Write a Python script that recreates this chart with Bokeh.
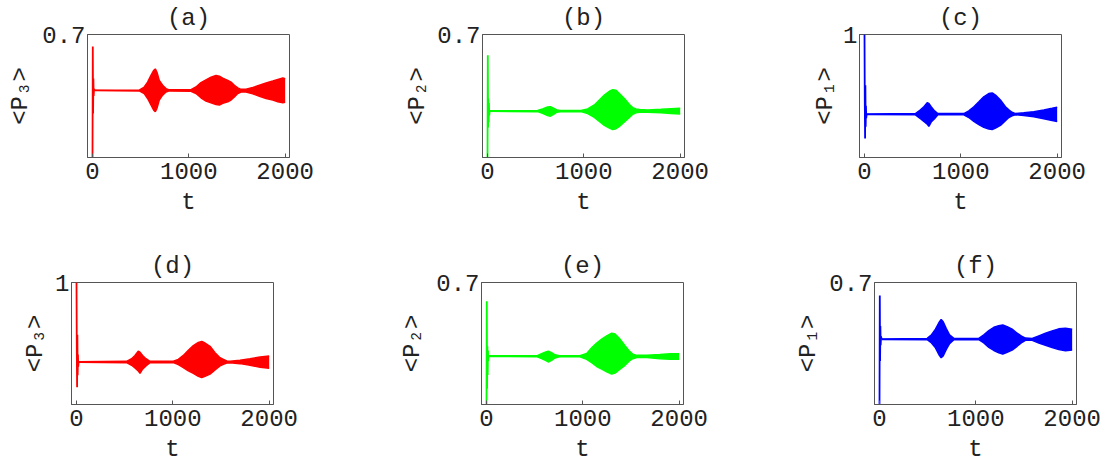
from bokeh.plotting import figure
from bokeh.layouts import column, row
from bokeh.models import FixedTicker, Range1d
from bokeh.embed import file_html
from bokeh.resources import INLINE

FONT = "Liberation Mono"
FS = "24px"

# ---------------- data ----------------
x_ticks = [0, 1000, 2000]

# (a) <P3>, red
a_t  = [20, 485, 537, 572, 607, 634, 652, 669, 693, 728, 763, 797, 1022, 1074, 1126, 1178, 1230, 1282, 1317, 1352, 1404, 1438, 1473, 1508, 1542, 1594, 1664, 1733, 1802, 1872, 1924, 1976, 2000]
a_up = [0.383, 0.383, 0.401, 0.429, 0.467, 0.495, 0.504, 0.485, 0.439, 0.411, 0.392, 0.385, 0.386, 0.401, 0.426, 0.442, 0.457, 0.467, 0.463, 0.452, 0.439, 0.429, 0.411, 0.396, 0.388, 0.388, 0.398, 0.411, 0.424, 0.435, 0.444, 0.452, 0.448]
a_lo = [0.381, 0.379, 0.364, 0.336, 0.299, 0.271, 0.261, 0.280, 0.327, 0.355, 0.373, 0.379, 0.377, 0.364, 0.340, 0.321, 0.312, 0.302, 0.299, 0.308, 0.317, 0.327, 0.345, 0.364, 0.373, 0.373, 0.362, 0.349, 0.336, 0.327, 0.317, 0.312, 0.314]
a_tr_t = [0, 3, 6, 9, 12, 16, 20]
a_tr_y = [0.0, 0.631, 0.25, 0.45, 0.35, 0.39, 0.383]

# (b) <P2>, green
b_t  = [22, 520, 572, 624, 652, 686, 721, 756, 970, 1040, 1109, 1161, 1213, 1265, 1300, 1334, 1369, 1421, 1473, 1508, 1542, 1577, 1664, 1802, 1906, 2000]
b_up = [0.266, 0.267, 0.276, 0.287, 0.289, 0.280, 0.271, 0.267, 0.267, 0.276, 0.299, 0.327, 0.355, 0.377, 0.386, 0.383, 0.364, 0.336, 0.302, 0.284, 0.276, 0.273, 0.271, 0.274, 0.278, 0.280]
b_lo = [0.263, 0.261, 0.252, 0.239, 0.235, 0.246, 0.258, 0.261, 0.261, 0.250, 0.228, 0.205, 0.183, 0.168, 0.159, 0.164, 0.177, 0.202, 0.228, 0.246, 0.254, 0.258, 0.258, 0.254, 0.250, 0.248]
b_tr_t = [0, 3, 6, 9, 12, 15, 18, 22]
b_tr_y = [0.0, 0.582, 0.17, 0.336, 0.20, 0.31, 0.24, 0.265]

# (c) <P1>, blue
c_t  = [22, 529, 581, 616, 651, 668, 692, 727, 761, 1031, 1083, 1135, 1187, 1238, 1290, 1325, 1360, 1411, 1463, 1498, 1532, 1567, 1654, 1758, 1861, 1948, 2000]
c_up = [0.354, 0.357, 0.387, 0.413, 0.445, 0.440, 0.413, 0.379, 0.357, 0.357, 0.379, 0.413, 0.453, 0.493, 0.520, 0.525, 0.507, 0.467, 0.413, 0.387, 0.368, 0.357, 0.363, 0.373, 0.387, 0.400, 0.408]
c_lo = [0.350, 0.347, 0.315, 0.293, 0.272, 0.253, 0.288, 0.315, 0.347, 0.347, 0.325, 0.293, 0.267, 0.245, 0.232, 0.227, 0.240, 0.261, 0.299, 0.325, 0.339, 0.347, 0.341, 0.331, 0.315, 0.301, 0.293]
c_tr_t = [0, 3, 6, 9, 12, 15, 18, 22]
c_tr_y = [1.0, 0.45, 0.155, 0.587, 0.25, 0.42, 0.32, 0.352]

# (d) <P3>, red
d_t  = [22, 520, 572, 607, 641, 659, 686, 721, 763, 1005, 1057, 1109, 1161, 1213, 1265, 1300, 1334, 1386, 1438, 1490, 1525, 1560, 1594, 1698, 1802, 1906, 2000]
d_up = [0.351, 0.354, 0.375, 0.402, 0.437, 0.429, 0.402, 0.375, 0.354, 0.354, 0.370, 0.402, 0.445, 0.483, 0.509, 0.517, 0.504, 0.477, 0.424, 0.383, 0.370, 0.357, 0.354, 0.362, 0.375, 0.389, 0.397]
d_lo = [0.347, 0.343, 0.322, 0.300, 0.276, 0.255, 0.290, 0.316, 0.343, 0.343, 0.327, 0.303, 0.276, 0.255, 0.231, 0.220, 0.231, 0.249, 0.284, 0.316, 0.330, 0.340, 0.343, 0.335, 0.322, 0.306, 0.298]
d_tr_t = [0, 3, 6, 9, 12, 15, 18, 22]
d_tr_y = [1.0, 0.45, 0.142, 0.571, 0.24, 0.41, 0.31, 0.349]

# (e) <P2>, green
e_t  = [22, 527, 572, 617, 641, 676, 711, 756, 970, 1040, 1092, 1144, 1196, 1248, 1300, 1334, 1386, 1438, 1483, 1518, 1560, 1664, 1802, 1906, 2000]
e_up = [0.279, 0.280, 0.291, 0.302, 0.306, 0.297, 0.285, 0.280, 0.280, 0.293, 0.325, 0.353, 0.375, 0.394, 0.409, 0.404, 0.375, 0.338, 0.306, 0.289, 0.282, 0.282, 0.287, 0.291, 0.291]
e_lo = [0.276, 0.274, 0.263, 0.252, 0.244, 0.253, 0.267, 0.274, 0.274, 0.259, 0.240, 0.218, 0.203, 0.188, 0.175, 0.180, 0.203, 0.225, 0.250, 0.263, 0.270, 0.270, 0.263, 0.259, 0.259]
e_tr_t = [0, 3, 6, 9, 12, 15, 18, 22]
e_tr_y = [0.0, 0.593, 0.09, 0.334, 0.17, 0.31, 0.25, 0.278]

# (f) <P1>, blue
f_t  = [22, 495, 540, 581, 616, 640, 661, 692, 727, 772, 1031, 1083, 1135, 1187, 1238, 1280, 1325, 1377, 1429, 1481, 1515, 1585, 1654, 1723, 1792, 1861, 1931, 2000]
f_up = [0.376, 0.379, 0.400, 0.432, 0.469, 0.488, 0.475, 0.437, 0.400, 0.379, 0.379, 0.400, 0.424, 0.443, 0.452, 0.456, 0.447, 0.432, 0.409, 0.390, 0.381, 0.379, 0.394, 0.409, 0.422, 0.434, 0.437, 0.432]
f_lo = [0.373, 0.372, 0.353, 0.325, 0.287, 0.268, 0.278, 0.315, 0.349, 0.372, 0.372, 0.353, 0.328, 0.310, 0.297, 0.289, 0.300, 0.312, 0.334, 0.357, 0.368, 0.368, 0.353, 0.340, 0.327, 0.315, 0.308, 0.312]
f_tr_t = [0, 3, 6, 9, 12, 16, 22]
f_tr_y = [0.0, 0.625, 0.25, 0.45, 0.34, 0.39, 0.375]

titles = ["(a)", "(b)", "(c)", "(d)", "(e)", "(f)"]
ylabels = ["<P\u2083>", "<P\u2082>", "<P\u2081>", "<P\u2083>", "<P\u2082>", "<P\u2081>"]
y_max = [0.7, 0.7, 1.0, 1.0, 0.7, 0.7]
y_tick_labels = ["0.7", "0.7", "1", "1", "0.7", "0.7"]
colors = ["#FF0000", "#00FF00", "#0000FF", "#FF0000", "#00FF00", "#0000FF"]

series = [
    (a_t, a_up, a_lo, a_tr_t, a_tr_y),
    (b_t, b_up, b_lo, b_tr_t, b_tr_y),
    (c_t, c_up, c_lo, c_tr_t, c_tr_y),
    (d_t, d_up, d_lo, d_tr_t, d_tr_y),
    (e_t, e_up, e_lo, e_tr_t, e_tr_y),
    (f_t, f_up, f_lo, f_tr_t, f_tr_y),
]

# layout: (width, height, left, right, top, bottom, ylabel standoff)
geom = [
    (370, 248, 87, 81, 32, 91, 5),
    (370, 248, 112, 56, 32, 91, 3),
    (369, 248, 119, 48, 32, 91, 1),
    (370, 220, 71, 97, 32, 64, 3),
    (370, 220, 111, 57, 32, 64, 7),
    (369, 220, 134, 33, 32, 64, 4),
]

FRAME = "#555555"
TXT = "#222222"

figs = []
for i in range(6):
    w, h, l, r, tp, bt, ls = geom[i]
    t, up, lo, tr_t, tr_y = series[i]
    p = figure(width=w, height=h, x_range=Range1d(-52, 2045), y_range=Range1d(0, y_max[i]),
               output_backend="svg", toolbar_location=None, title=titles[i],
               min_border_left=l, min_border_right=r, min_border_top=tp, min_border_bottom=bt)
    p.title.align = "center"
    p.title.text_font = FONT
    p.title.text_font_size = FS
    p.title.text_font_style = "normal"
    p.title.text_color = TXT
    p.title.text_line_height = 1.0
    p.title.standoff = 5
    p.xgrid.visible = False
    p.ygrid.visible = False
    p.outline_line_color = FRAME
    p.outline_line_width = 1
    p.background_fill_color = "white"
    p.border_fill_color = "white"
    for ax in [p.xaxis[0], p.yaxis[0]]:
        ax.axis_line_color = FRAME
        ax.major_tick_line_color = FRAME
        ax.major_tick_in = 4
        ax.major_tick_out = 0
        ax.minor_tick_line_color = None
        ax.major_label_text_font = FONT
        ax.major_label_text_font_size = FS
        ax.major_label_text_color = TXT
        ax.major_label_standoff = 2
        ax.axis_label_text_font = FONT
        ax.axis_label_text_font_size = FS
        ax.axis_label_text_font_style = "normal"
        ax.axis_label_text_color = TXT
    p.xaxis.ticker = FixedTicker(ticks=x_ticks)
    p.yaxis.ticker = FixedTicker(ticks=[y_max[i]])
    p.yaxis.major_label_overrides = {y_max[i]: y_tick_labels[i]}
    p.xaxis.axis_label = "t"
    p.yaxis.axis_label = ylabels[i]
    p.xaxis.major_label_standoff = 5
    p.xaxis.major_label_text_line_height = 1.0
    p.xaxis.axis_label_text_line_height = 1.0
    p.xaxis.axis_label_standoff = 7
    p.yaxis.axis_label_standoff = ls

    c = colors[i]
    p.varea(x=t, y1=lo, y2=up, fill_color=c, fill_alpha=1.0)
    p.line(t, up, line_color=c, line_width=1.5)
    p.line(t, lo, line_color=c, line_width=1.5)
    p.line(tr_t, tr_y, line_color=c, line_width=1.8)
    figs.append(p)

layout = column(row(figs[0], figs[1], figs[2]), row(figs[3], figs[4], figs[5]))
open("out.html", "w").write(file_html(layout, INLINE))
